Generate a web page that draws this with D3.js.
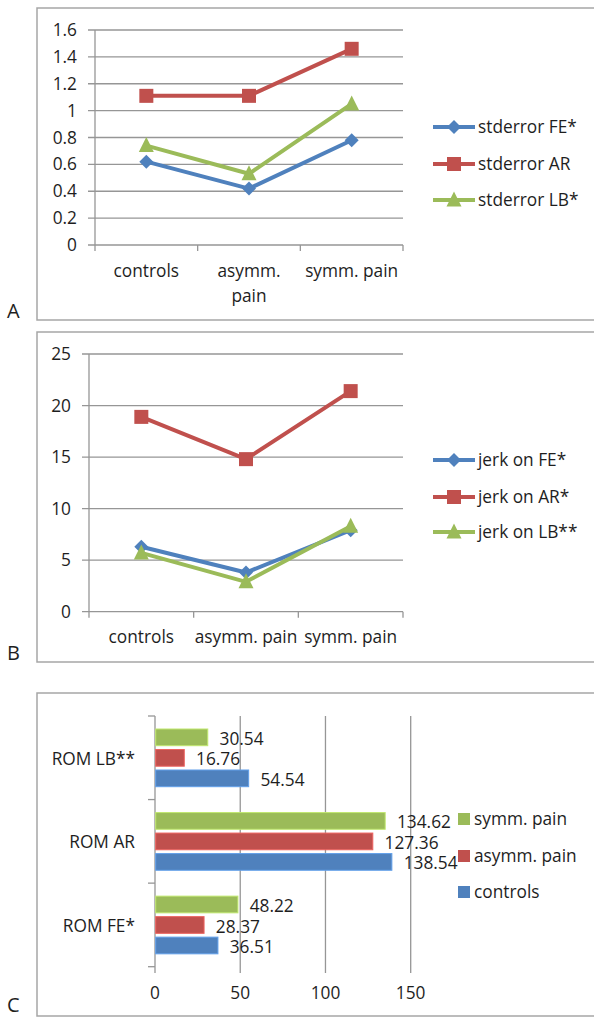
<!DOCTYPE html>
<html>
<head>
<meta charset="utf-8">
<script src="https://cdn.jsdelivr.net/npm/d3@7"></script>
<style>
  html, body { margin: 0; padding: 0; background: #fff; }
  svg { display: block; }
  text { font-family: "Open Sans", sans-serif; fill: #1e1e1e; }
</style>
</head>
<body>
<svg id="chart" width="594" height="1018"></svg>
<script>
// ---------- DATA ----------
const groups = ["controls", "asymm. pain", "symm. pain"];
const groupLabelsA = [["controls"], ["asymm.", "pain"], ["symm. pain"]];

const seriesA = ["stderror FE*", "stderror AR", "stderror LB*"];
const stderrFE = [0.62, 0.42, 0.78];
const stderrAR = [1.11, 1.11, 1.46];
const stderrLB = [0.74, 0.53, 1.05];
const ticksA = [0, 0.2, 0.4, 0.6, 0.8, 1, 1.2, 1.4, 1.6];

const seriesB = ["jerk on FE*", "jerk on AR*", "jerk on LB**"];
const jerkFE = [6.3, 3.8, 7.9];
const jerkAR = [18.9, 14.8, 21.4];
const jerkLB = [5.7, 2.9, 8.3];
const ticksB = [0, 5, 10, 15, 20, 25];

const romCategories = ["ROM LB**", "ROM AR", "ROM FE*"]; // top to bottom
const romSeries = ["symm. pain", "asymm. pain", "controls"]; // top to bottom within group
const romSymm = [30.54, 134.62, 48.22];
const romAsymm = [16.76, 127.36, 28.37];
const romControls = [54.54, 138.54, 36.51];
const ticksC = [0, 50, 100, 150];

const panelLetters = ["A", "B", "C"];

// ---------- STYLE ----------
const colors = ["#4F81BD", "#C0504D", "#9BBB59"];
const gridColor = "#969696";
const frameColor = "#a6a6a6";
const fs = 17.3;

const svg = d3.select("#chart");

function frame(y0, y1) {
  svg.append("rect")
    .attr("x", 37).attr("y", y0)
    .attr("width", 620).attr("height", y1 - y0)
    .attr("fill", "none").attr("stroke", frameColor).attr("stroke-width", 1.5);
}

function marker(g, type, x, y, color) {
  if (type === 0) {
    const s = 7;
    g.append("path").attr("d", `M${x},${y - s}L${x + s},${y}L${x},${y + s}L${x - s},${y}Z`).attr("fill", color);
  } else if (type === 1) {
    const s = 7;
    g.append("rect").attr("x", x - s).attr("y", y - s).attr("width", 2 * s).attr("height", 2 * s).attr("fill", color);
  } else {
    const s = 7.5;
    g.append("path").attr("d", `M${x},${y - s - 1}L${x + s},${y + s - 1}L${x - s},${y + s - 1}Z`).attr("fill", color);
  }
}

function linePanel(opts) {
  const { top, bottom, yDomain, yRange, xRange, ticks, series, values, labels, labelY, tickLeft, yLabelX, legendYs, fmt } = opts;
  frame(top, bottom);
  const g = svg.append("g");
  const y = d3.scaleLinear().domain(yDomain).range(yRange);
  const x = d3.scaleBand().domain(groups).range(xRange).padding(0);

  g.selectAll(".grid").data(ticks).join("line")
    .attr("x1", tickLeft).attr("x2", xRange[1])
    .attr("y1", d => y(d)).attr("y2", d => y(d))
    .attr("stroke", gridColor).attr("stroke-width", 1.3);
  g.append("line").attr("x1", xRange[0]).attr("x2", xRange[0])
    .attr("y1", y(yDomain[1])).attr("y2", y(0))
    .attr("stroke", gridColor).attr("stroke-width", 1.3);
  const bounds = groups.map(d => x(d)).concat([xRange[1]]);
  g.selectAll(".xt").data(bounds).join("line")
    .attr("x1", d => d).attr("x2", d => d)
    .attr("y1", y(0)).attr("y2", y(0) + 6)
    .attr("stroke", gridColor).attr("stroke-width", 1.3);
  g.selectAll(".yl").data(ticks).join("text")
    .attr("x", yLabelX).attr("y", d => y(d))
    .attr("dy", "0.35em").attr("text-anchor", "end")
    .attr("font-size", fs).text(d => fmt(d));
  groups.forEach((grp, i) => {
    labels[i].forEach((ln, j) => {
      g.append("text").attr("x", x(grp) + x.bandwidth() / 2).attr("y", labelY + j * 25)
        .attr("text-anchor", "middle").attr("font-size", fs).text(ln);
    });
  });
  const line = d3.line().x((d, i) => x(groups[i]) + x.bandwidth() / 2).y(d => y(d));
  values.forEach((vals, s) => {
    g.append("path").datum(vals).attr("d", line)
      .attr("fill", "none").attr("stroke", colors[s]).attr("stroke-width", 4)
      .attr("stroke-linejoin", "round");
    vals.forEach((v, i) => marker(g, s, x(groups[i]) + x.bandwidth() / 2, y(v), colors[s]));
  });
  series.forEach((name, s) => {
    const ly = legendYs[s];
    g.append("line").attr("x1", 433).attr("x2", 475).attr("y1", ly).attr("y2", ly)
      .attr("stroke", colors[s]).attr("stroke-width", 4);
    marker(g, s, 454, ly, colors[s]);
    g.append("text").attr("x", 478).attr("y", ly).attr("dy", "0.35em")
      .attr("font-size", fs).text(name);
  });
}

linePanel({
  top: 8, bottom: 320,
  yDomain: [0, 1.6], yRange: [245, 30], xRange: [95, 403],
  ticks: ticksA, series: seriesA, values: [stderrFE, stderrAR, stderrLB],
  labels: groupLabelsA, labelY: 277, tickLeft: 88, yLabelX: 77,
  legendYs: [127, 164, 200], fmt: d => String(d)
});

linePanel({
  top: 332, bottom: 662,
  yDomain: [0, 25], yRange: [611.7, 354], xRange: [89, 403],
  ticks: ticksB, series: seriesB, values: [jerkFE, jerkAR, jerkLB],
  labels: groups.map(d => [d]), labelY: 643, tickLeft: 82, yLabelX: 71,
  legendYs: [460, 497, 532], fmt: d => String(d)
});

(function () {
  frame(693, 1016);
  const g = svg.append("g");
  const x = d3.scaleLinear().domain([0, 150]).range([155, 410.7]);
  const yb = d3.scaleBand().domain(romCategories).range([716, 966.7]).padding(0);
  const inner = d3.scaleBand().domain(romSeries).range([13, 70.7]).paddingInner(0.185);
  const seriesVals = { "symm. pain": romSymm, "asymm. pain": romAsymm, "controls": romControls };
  const seriesColor = { "symm. pain": colors[2], "asymm. pain": colors[1], "controls": colors[0] };

  g.selectAll(".vg").data(ticksC).join("line")
    .attr("x1", d => x(d)).attr("x2", d => x(d))
    .attr("y1", 716).attr("y2", 973)
    .attr("stroke", gridColor).attr("stroke-width", 1.3);
  const bounds = romCategories.map(d => yb(d)).concat([966.7]);
  g.selectAll(".ct").data(bounds).join("line")
    .attr("x1", 148).attr("x2", 155).attr("y1", d => d).attr("y2", d => d)
    .attr("stroke", gridColor).attr("stroke-width", 1.3);
  g.selectAll(".cl").data(romCategories).join("text")
    .attr("x", 135).attr("y", d => yb(d) + yb.bandwidth() / 2 + 1)
    .attr("dy", "0.35em").attr("text-anchor", "end")
    .attr("font-size", fs).text(d => d);
  g.selectAll(".xl").data(ticksC).join("text")
    .attr("x", d => x(d)).attr("y", 999)
    .attr("text-anchor", "middle").attr("font-size", fs).text(d => d);
  romCategories.forEach((cat, ci) => {
    romSeries.forEach(s => {
      const v = seriesVals[s][ci];
      const by = yb(cat) + inner(s);
      g.append("rect").attr("x", x(0) + 0.7).attr("y", by)
        .attr("width", x(v) - x(0)).attr("height", inner.bandwidth())
        .attr("fill", seriesColor[s])
        .attr("stroke", d3.color(seriesColor[s]).brighter(0.6)).attr("stroke-width", 1);
      g.append("text").attr("x", x(v) + 12.5).attr("y", by + inner.bandwidth() / 2 + 1.5)
        .attr("dy", "0.35em").attr("font-size", fs).text(v.toFixed(2));
    });
  });
  const legY = [819, 856, 892];
  romSeries.forEach((s, i) => {
    g.append("rect").attr("x", 458).attr("y", legY[i] - 6).attr("width", 12).attr("height", 12)
      .attr("fill", seriesColor[s]);
    g.append("text").attr("x", 474).attr("y", legY[i]).attr("dy", "0.35em")
      .attr("font-size", fs).text(s);
  });
})();

[318, 660, 1012].forEach((yy, i) => {
  svg.append("text").attr("x", 7).attr("y", yy).attr("font-size", 20).text(panelLetters[i]);
});
</script>
</body>
</html>
